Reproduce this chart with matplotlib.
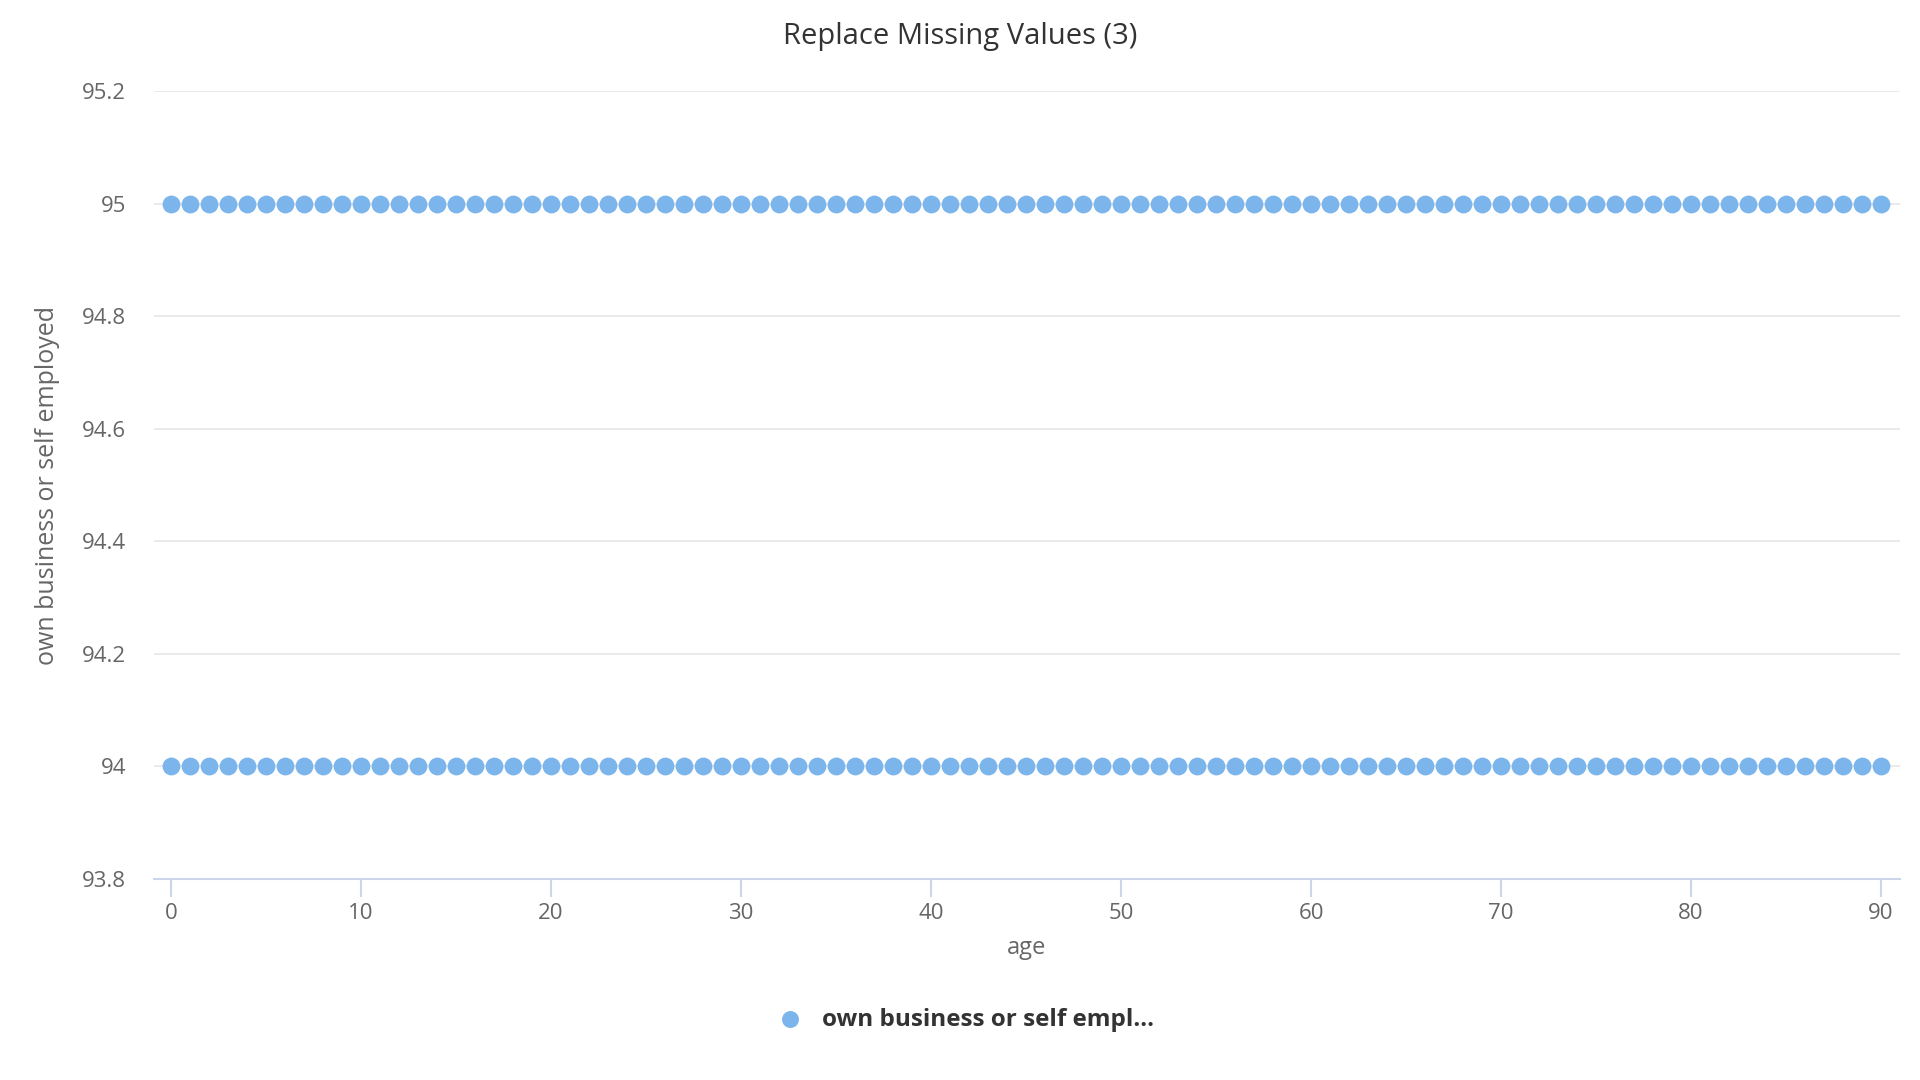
import numpy as np
import matplotlib.pyplot as plt

# data: every age 0..90 appears at both values
ages = list(range(0, 91))
low_values = [94] * len(ages)
high_values = [95] * len(ages)

series_name = "own business or self empl..."
title = "Replace Missing Values (3)"
x_label = "age"
y_label = "own business or self employed"
x_ticks = [0, 10, 20, 30, 40, 50, 60, 70, 80, 90]
y_ticks = [93.8, 94.0, 94.2, 94.4, 94.6, 94.8, 95.0, 95.2]
y_tick_labels = ["93.8", "94", "94.2", "94.4", "94.6", "94.8", "95", "95.2"]

plt.rcParams['font.family'] = ['Open Sans', 'DejaVu Sans']

fig = plt.figure(figsize=(19.2, 10.8), dpi=100)
ax = fig.add_axes([0.0802, 0.1861, 0.9094, 0.7296])

dot_color = "#7cb5ec"
ax.scatter(ages, high_values, s=165, color=dot_color, linewidths=0, zorder=3)
ax.scatter(ages, low_values, s=165, color=dot_color, linewidths=0, zorder=3,
           label=series_name)

ax.set_xlim(-0.9, 91.0)
ax.set_ylim(93.8, 95.2)
ax.set_xticks(x_ticks)
ax.set_yticks(y_ticks)
ax.set_yticklabels(y_tick_labels)

ax.grid(axis="y", color="#e6e6e6", linewidth=1.2)
ax.set_axisbelow(True)

for side in ["top", "right", "left"]:
    ax.spines[side].set_visible(False)
ax.spines["bottom"].set_color("#ccd6eb")
ax.spines["bottom"].set_linewidth(1.5)

ax.tick_params(axis="x", colors="#ccd6eb", length=13, width=1.5, labelcolor="#666666",
               labelsize=16, pad=4)
ax.tick_params(axis="y", length=0, labelcolor="#666666", labelsize=16, pad=20)

ax.set_xlabel(x_label, fontsize=17, color="#666666", labelpad=9)
ax.set_ylabel(y_label, fontsize=18, color="#666666", labelpad=16)
fig.text(0.5, 0.966, title, ha="center", va="center", fontsize=21, color="#333333")

leg = fig.legend(loc="center", bbox_to_anchor=(0.5, 0.056), frameon=False,
                 prop={"size": 17.5, "weight": "bold"}, handletextpad=0.3,
                 markerscale=0.95)
for t in leg.get_texts():
    t.set_color("#333333")

fig.savefig("out.png", dpi=100)
